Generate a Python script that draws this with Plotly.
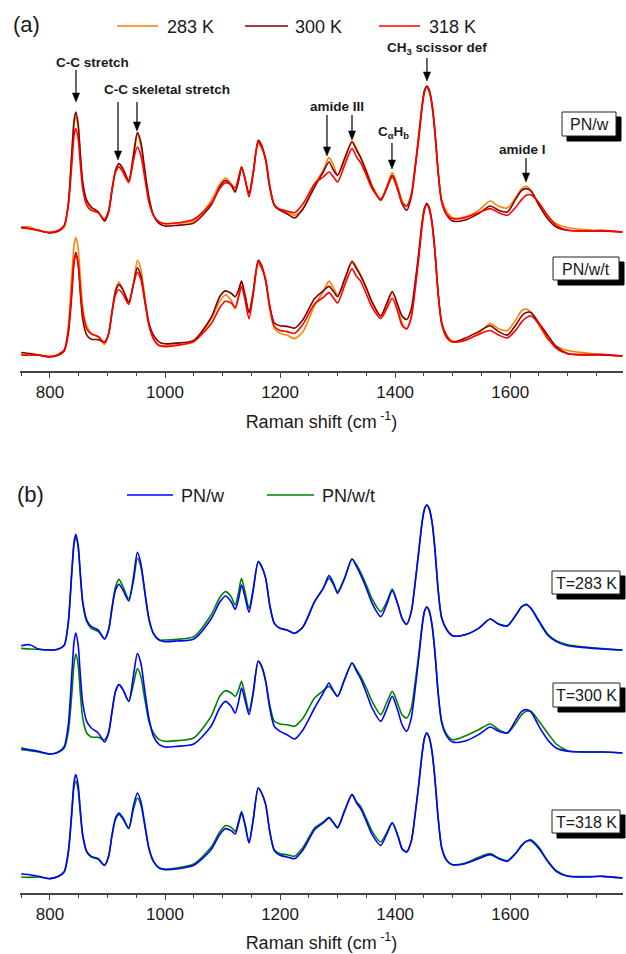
import plotly.graph_objects as go

# ---------------- data ----------------
W = [750, 765, 780, 800, 815, 825, 832, 838, 842, 845,
     849, 853, 857, 864, 872, 884, 895, 902, 908, 914,
     920, 927, 937, 945, 952, 958, 965, 972, 980, 990,
     1000, 1020, 1050, 1080, 1095, 1105, 1115, 1122, 1128, 1133,
     1139, 1146, 1153, 1162, 1168, 1175, 1182, 1190, 1200, 1212,
     1225, 1240, 1260, 1275, 1285, 1293, 1300, 1312, 1325, 1333,
     1340, 1350, 1360, 1375, 1385, 1395, 1405, 1412, 1420, 1428,
     1435, 1441, 1447, 1451, 1455, 1459, 1464, 1469, 1475, 1481,
     1490, 1500, 1520, 1545, 1565, 1580, 1595, 1610, 1620, 1628,
     1636, 1650, 1665, 1680, 1700, 1730, 1760, 1795]

PNw_283 = [13, 16, 3, 0, 3, 15, 85, 235, 325, 347,
           315, 225, 145, 90, 70, 60, 33, 60, 125, 180,
           197, 180, 147, 215, 293, 260, 175, 95, 50, 30,
           25, 27, 33, 93, 143, 162, 145, 122, 155, 195,
           160, 113, 175, 265, 250, 215, 135, 80, 65, 60,
           50, 70, 145, 185, 223, 200, 170, 215, 273, 250,
           225, 185, 140, 100, 135, 178, 135, 95, 77, 115,
           205, 295, 385, 423, 435, 425, 385, 305, 175, 95,
           60, 43, 45, 65, 93, 77, 72, 105, 130, 137,
           125, 85, 45, 25, 13, 7, 3, 0]

PNwt_283 = [5, 3, 2, 0, 3, 14, 82, 230, 318, 340,
            310, 222, 140, 85, 65, 55, 33, 62, 130, 190,
            212, 190, 153, 205, 275, 250, 170, 92, 48, 30,
            30, 32, 40, 105, 157, 175, 160, 135, 175, 215,
            175, 125, 180, 265, 250, 215, 135, 80, 65, 60,
            50, 70, 145, 185, 215, 195, 175, 215, 273, 255,
            233, 195, 153, 115, 143, 183, 135, 95, 77, 115,
            205, 295, 385, 423, 435, 425, 385, 305, 175, 95,
            60, 43, 45, 65, 93, 78, 73, 105, 130, 135,
            125, 88, 48, 28, 16, 9, 4, 0]

PNw_300 = [15, 10, 5, -3, 3, 20, 85, 235, 335, 360,
           325, 230, 150, 95, 75, 60, 33, 60, 125, 185,
           205, 190, 155, 230, 298, 270, 185, 105, 50, 25,
           18, 20, 27, 80, 135, 155, 140, 120, 155, 195,
           160, 115, 175, 275, 260, 215, 135, 80, 65, 55,
           42, 70, 135, 180, 210, 185, 170, 220, 270, 245,
           223, 180, 135, 95, 130, 170, 125, 85, 65, 105,
           195, 285, 380, 425, 438, 427, 385, 305, 175, 90,
           50, 33, 35, 55, 78, 65, 60, 100, 125, 130,
           123, 80, 40, 15, 5, 3, 3, 0]

PNwt_300 = [10, 7, 3, -3, 3, 15, 65, 175, 270, 297,
            265, 175, 105, 60, 48, 47, 40, 63, 125, 185,
            205, 190, 155, 205, 253, 230, 160, 95, 60, 40,
            35, 37, 45, 110, 170, 187, 180, 170, 190, 215,
            175, 125, 180, 275, 260, 215, 145, 95, 87, 85,
            80, 105, 165, 187, 200, 185, 170, 220, 270, 250,
            230, 195, 155, 115, 150, 185, 145, 115, 105, 135,
            215, 295, 385, 425, 438, 427, 385, 305, 175, 95,
            55, 40, 50, 70, 87, 70, 60, 90, 115, 125,
            125, 95, 60, 27, 7, 3, 3, 0]

PNw_318 = [12, 10, 5, -2, 5, 20, 80, 200, 290, 310,
           280, 200, 130, 80, 65, 58, 38, 65, 130, 180,
           195, 180, 150, 215, 255, 230, 160, 90, 50, 30,
           25, 27, 38, 85, 130, 148, 142, 132, 165, 195,
           160, 105, 170, 270, 255, 220, 140, 82, 68, 63,
           58, 85, 145, 165, 180, 165, 150, 200, 250, 225,
           208, 170, 130, 98, 130, 165, 125, 88, 78, 110,
           195, 280, 375, 420, 435, 422, 380, 300, 175, 90,
           52, 40, 42, 58, 70, 58, 50, 75, 98, 110,
           112, 88, 50, 20, 5, 3, 5, 0]

PNwt_318 = [3, 2, 3, -2, 5, 18, 75, 190, 275, 290,
            265, 190, 125, 78, 63, 56, 38, 65, 128, 176,
            190, 177, 148, 205, 240, 220, 155, 88, 50, 30,
            27, 30, 42, 92, 138, 157, 152, 140, 170, 200,
            162, 107, 172, 270, 255, 220, 142, 85, 73, 70,
            65, 92, 150, 168, 182, 166, 152, 202, 250, 228,
            215, 178, 140, 108, 135, 166, 125, 88, 78, 110,
            195, 280, 375, 420, 435, 422, 380, 300, 175, 90,
            52, 40, 44, 62, 73, 60, 52, 75, 98, 110,
            115, 92, 52, 22, 6, 4, 5, 0]

TEMPS = ["283 K", "300 K", "318 K"]
SAMPLES = ["PN/w", "PN/w/t"]
SPECTRA = {
    ("PN/w", "283 K"): PNw_283, ("PN/w", "300 K"): PNw_300, ("PN/w", "318 K"): PNw_318,
    ("PN/w/t", "283 K"): PNwt_283, ("PN/w/t", "300 K"): PNwt_300, ("PN/w/t", "318 K"): PNwt_318,
}

BAND_LABELS = ["C-C stretch", "C-C skeletal stretch", "amide III",
               "C<sub>α</sub>H<sub>b</sub>", "CH<sub>3</sub> scissor def", "amide I"]
BAND_ARROWS = [845.3, 918.3, 951.3, 1281.5, 1325, 1394.5, 1455.3, 1627.4]
X_TICKS = [800, 1000, 1200, 1400, 1600]
X_RANGE = [748, 1796]

# ---------------- styling / layout ----------------
FW, FH = 626, 954
def px(x): return x / FW
def py(y): return 1 - y / FH

FONT = "Liberation Sans, Arial, sans-serif"
TXT = "#1a1a1a"
COL_T = {"283 K": "#FF8000", "300 K": "#800000", "318 K": "#FF0000"}
COL_S = {"PN/w": "#0000FF", "PN/w/t": "#008000"}

A_OFFSET = {"PN/w": 372, "PN/w/t": 0}
A_SCALE = {"PN/w": 1.0, "PN/w/t": 1.045}
B_OFFSET = {"283 K": 684, "300 K": 375, "318 K": 0}

fig = go.Figure()

# panel (a): temperatures compared, stacked by sample
for s in SAMPLES:
    for t in TEMPS:
        vals = [A_OFFSET[s] + A_SCALE[s] * v for v in SPECTRA[(s, t)]]
        fig.add_trace(go.Scatter(
            x=W, y=vals, mode="lines", name=f"{s} {t}",
            line=dict(color=COL_T[t], width=1.6, shape="spline", smoothing=0.7),
            showlegend=False, xaxis="x", yaxis="y", hoverinfo="skip"))

# panel (b): samples compared, stacked by temperature
for t in TEMPS:
    for s in ("PN/w/t", "PN/w"):
        vals = [B_OFFSET[t] + v for v in SPECTRA[(s, t)]]
        fig.add_trace(go.Scatter(
            x=W, y=vals, mode="lines", name=f"{s} {t}",
            line=dict(color=COL_S[s], width=1.6, shape="spline", smoothing=0.7),
            showlegend=False, xaxis="x2", yaxis="y2", hoverinfo="skip"))

def xaxis_cfg(standoff):
    return dict(
        range=X_RANGE, showline=True, linecolor="#444", linewidth=1.5,
        ticks="outside", ticklen=5, tickwidth=1, tickcolor="#444",
        tickvals=X_TICKS, ticktext=[str(v) for v in X_TICKS],
        minor=dict(ticks="outside", ticklen=3, tickwidth=1, tickcolor="#444",
                   tick0=750, dtick=50),
        showgrid=False, zeroline=False, automargin=False,
        tickfont=dict(family=FONT, size=17, color=TXT),
        title=dict(text="Raman shift (cm<sup> -1</sup>)",
                   font=dict(family=FONT, size=18, color=TXT), standoff=standoff),
    )

fig.update_layout(
    width=FW, height=FH, margin=dict(l=0, r=0, t=0, b=0),
    paper_bgcolor="white", plot_bgcolor="white",
    font=dict(family=FONT, color=TXT), showlegend=False,
    xaxis=dict(domain=[px(20), px(623)], anchor="y", **xaxis_cfg(14)),
    yaxis=dict(domain=[py(371), py(80)], range=[-45, 828], visible=False),
    xaxis2=dict(domain=[px(20), px(623)], anchor="y2", **xaxis_cfg(13)),
    yaxis2=dict(domain=[py(893), py(500)], range=[-45, 1134], visible=False),
)

ann, shp = [], []

def text_at(txt, cx, cy, size, weight="normal", xanchor="center"):
    return dict(text=txt, x=px(cx), y=py(cy), xref="paper", yref="paper",
                xanchor=xanchor, yanchor="middle", showarrow=False,
                font=dict(family=FONT, size=size, color=TXT, weight=weight))

# panel letters
ann.append(text_at("(a)", 26, 25, 22))
ann.append(text_at("(b)", 30, 494, 22))

# hand-placed legends: (line x0, line x1, text x0, y, label, colour)
legend_a = [(117, 158, 165, 26, TEMPS[0], COL_T[TEMPS[0]]),
            (245, 288, 293, 26, TEMPS[1], COL_T[TEMPS[1]]),
            (379, 420, 427, 26, TEMPS[2], COL_T[TEMPS[2]])]
legend_b = [(127, 173, 179, 495, SAMPLES[0], COL_S[SAMPLES[0]]),
            (267, 314, 320, 495, SAMPLES[1], COL_S[SAMPLES[1]])]
for x0, x1, tx, yy, lab, col in legend_a + legend_b:
    shp.append(dict(type="line", xref="paper", yref="paper",
                    x0=px(x0), x1=px(x1), y0=py(yy), y1=py(yy),
                    line=dict(color=col, width=1.6)))
    ann.append(text_at(lab, tx, yy + 1, 18, xanchor="left"))

# band labels (bold)
label_pos = [(93, 62), (167, 89), (337, 106), (393, 133), (437, 49), (522, 149)]
for txt, (cx, cy) in zip(BAND_LABELS, label_pos):
    ann.append(text_at(txt, cx, cy, 13.5, weight="bold"))

# arrows (vertical line + filled head), y given as (tail px, tip px)
arrow_y = [(70, 102), (102, 160), (102, 131), (115, 156), (115, 140),
           (143, 169), (58, 81), (158, 182)]
HEAD_LEN, HEAD_HALF = 9, 3.6
dx = HEAD_HALF * (X_RANGE[1] - X_RANGE[0]) / 603
for w, (tail, tip) in zip(BAND_ARROWS, arrow_y):
    shp.append(dict(type="line", xref="x", yref="paper", x0=w, x1=w,
                    y0=py(tail), y1=py(tip - HEAD_LEN + 1),
                    line=dict(color="black", width=1.2)))
    shp.append(dict(type="path", xref="x", yref="paper",
                    path=f"M{w - dx},{py(tip - HEAD_LEN)} L{w + dx},{py(tip - HEAD_LEN)} L{w},{py(tip)} Z",
                    fillcolor="black", line=dict(color="black", width=0.5)))

# boxed labels with drop shadows: (text, x0, x1, y0, y1)
boxes = [("PN/w", 562, 616, 112, 136), ("PN/w/t", 553, 619, 257, 280),
         ("T=283 K", 552, 620, 571, 594), ("T=300 K", 553, 620, 683, 707),
         ("T=318 K", 552, 620, 810, 833)]
SH = 5
for txt, x0, x1, y0, y1 in boxes:
    shp.append(dict(type="rect", xref="paper", yref="paper",
                    x0=px(x0 + SH), x1=px(x1 + SH), y0=py(y1 + SH), y1=py(y0 + SH),
                    fillcolor="black", line=dict(color="black", width=1)))
    shp.append(dict(type="rect", xref="paper", yref="paper",
                    x0=px(x0), x1=px(x1), y0=py(y1), y1=py(y0),
                    fillcolor="white", line=dict(color="#222", width=1)))
    ann.append(text_at(txt, (x0 + x1) / 2, (y0 + y1) / 2 + 0.5, 16))

fig.update_layout(annotations=ann, shapes=shp)
# the page's default 8px body margin would shift the figure; remove it
fig.write_html("out.html",
               config={"displayModeBar": False, "staticPlot": True},
               post_script="document.body.style.margin='0';document.body.style.overflow='hidden';")
